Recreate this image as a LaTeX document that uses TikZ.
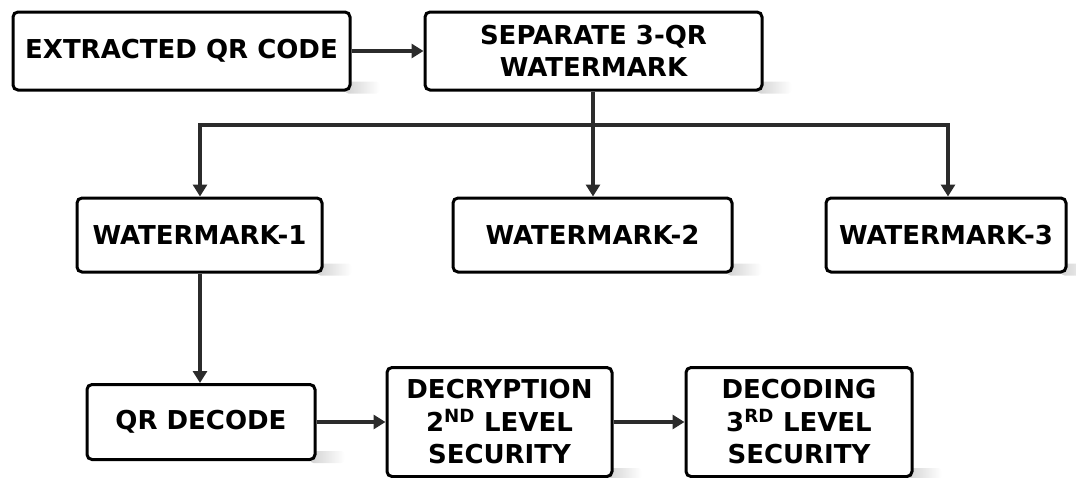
\documentclass[tikz,border=0pt]{standalone}
\usepackage{fontspec}
\setmainfont{DejaVu Sans}
\usetikzlibrary{arrows.meta,backgrounds}
\definecolor{wire}{HTML}{2B2B2B}
\tikzset{
  box/.style={draw=black, line width=3pt, rounded corners=5pt, fill=white,
    align=center, inner sep=0pt, font=\fontsize{26}{32.5}\selectfont\bfseries},
  conn/.style={draw=wire, line width=3.6pt},
  arr/.style={conn, -{Triangle[length=12pt,width=14pt]}},
}
% soft tail of shadow at the lower right corner of a box
\newcommand\boxtail[1]{%
  \shade[left color=gray!35, right color=white, rounded corners=3pt]
    ([shift={(-6,-10)}]#1.south east) rectangle ([shift={(28,2)}]#1.south east);}
\begin{document}
\begin{tikzpicture}[x=1pt, y=-1pt]
\useasboundingbox (0,0) rectangle (1076,477);

\node[box, minimum width=337pt, minimum height=78pt] (ext) at (181.5,51) {EXTRACTED QR CODE};
\node[box, minimum width=337pt, minimum height=78pt] (sep) at (593.5,51) {SEPARATE 3-QR\\WATERMARK};
\node[box, minimum width=245pt, minimum height=74pt] (wm1) at (199.5,235) {WATERMARK-1};
\node[box, minimum width=279pt, minimum height=74pt] (wm2) at (592.5,235) {WATERMARK-2};
\node[box, minimum width=240pt, minimum height=74pt] (wm3) at (946,235) {WATERMARK-3};
\node[box, minimum width=228pt, minimum height=75pt] (qrd) at (201,422) {QR DECODE};
\node[box, minimum width=225pt, minimum height=109pt] (dec) at (499.5,422) {DECRYPTION\\2\textsuperscript{ND} LEVEL\\SECURITY};
\node[box, minimum width=226pt, minimum height=109pt] (dcd) at (799,422) {DECODING\\3\textsuperscript{RD} LEVEL\\SECURITY};

% shadows behind the boxes
\begin{scope}[on background layer]
\foreach \n in {ext,sep,wm1,wm2,wm3,qrd,dec,dcd} {\boxtail{\n}}
\end{scope}

% branching junction
\coordinate (jl) at (200,125);
\coordinate (jm) at (593,125);
\coordinate (jr) at (948,125);

\draw[arr] (ext.east) -- (sep.west);
\draw[conn] (sep.south -| jm) -- (jm);
\draw[conn, line cap=rect] (jl) -- (jr);
\draw[arr] (jl) -- (jl |- wm1.north);
\draw[arr] (jm) -- (jm |- wm2.north);
\draw[arr] (jr) -- (jr |- wm3.north);
\draw[arr] (wm1.south -| jl) -- (jl |- qrd.north);
\draw[arr] (qrd.east) -- (dec.west);
\draw[arr] (dec.east) -- (dcd.west);
\end{tikzpicture}
\end{document}
